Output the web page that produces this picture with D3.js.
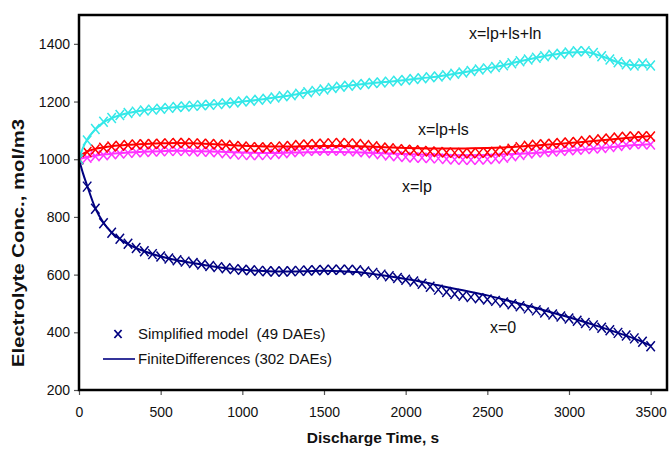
<!DOCTYPE html>
<html>
<head>
<meta charset="utf-8">
<script src="https://cdn.jsdelivr.net/npm/d3@7"></script>
<style>
  html, body { margin: 0; padding: 0; background: #fff; }
  svg { display: block; font-family: "Liberation Sans", Arial, sans-serif; }
</style>
</head>
<body>
<svg id="chart" width="669" height="449"></svg>
<script>
// ---------- DATA ----------
const xTicks = [0, 500, 1000, 1500, 2000, 2500, 3000, 3500];
const yTicks = [200, 400, 600, 800, 1000, 1200, 1400];

// Simplified model (markers) sample times, s
const markerTimes = [0,50,100,150,200,250,300,350,400,450,500,550,600,650,700,750,800,850,900,950,
  1000,1050,1100,1150,1200,1250,1300,1350,1400,1450,1500,1550,1600,1650,1700,1750,1800,1850,1900,1950,
  2000,2050,2100,2150,2200,2250,2300,2350,2400,2450,2500,2550,2600,2650,2700,2750,2800,2850,2900,2950,
  3000,3050,3100,3150,3200,3250,3300,3350,3400,3450,3500];

const simX0 = [1000,905,828,778,745,724,707,692,681,671,663,656,650,645,640,635,630,626,622,619,
  617,615,613,612,611,611,612,613,614,615,616,617,617,617,615,611,606,600,594,588,
  582,576,568,558,548,540,533,527,522,518,514,509,503,497,490,483,476,469,462,455,
  448,440,432,424,416,407,398,389,379,367,352];
const simLp = [1000,1005,1010,1014,1017,1020,1022,1024,1025,1027,1028,1029,1029,1029,1028,1027,1026,1024,1021,1018,
  1016,1015,1015,1016,1018,1021,1024,1027,1029,1030,1030,1030,1030,1029,1027,1024,1021,1017,1013,1010,
  1008,1006,1005,1004,1003,1001,999,998,998,999,1000,1002,1005,1010,1015,1020,1023,1025,1027,1029,
  1031,1033,1035,1037,1039,1042,1046,1050,1053,1053,1051];
const simLpLs = [1000,1025,1034,1040,1044,1047,1049,1051,1052,1053,1054,1055,1056,1056,1055,1054,1053,1051,1049,1046,
  1044,1042,1041,1041,1042,1044,1046,1049,1051,1053,1054,1055,1056,1055,1053,1049,1045,1041,1038,1035,
  1033,1031,1029,1027,1025,1023,1022,1021,1021,1022,1023,1026,1030,1036,1042,1047,1050,1052,1054,1056,
  1058,1060,1063,1066,1069,1072,1075,1078,1079,1080,1079];
const simLpLsLn = [1000,1065,1105,1130,1143,1153,1160,1165,1169,1172,1175,1178,1181,1183,1185,1187,1189,1191,1194,1197,
  1200,1203,1206,1210,1214,1218,1222,1227,1232,1237,1242,1247,1251,1255,1258,1261,1264,1266,1269,1272,
  1275,1278,1281,1284,1287,1291,1296,1301,1306,1311,1315,1320,1326,1333,1340,1346,1352,1357,1362,1366,
  1370,1374,1374,1368,1357,1346,1336,1329,1325,1332,1325];

// Finite differences (lines)
const fdTimes = [0,25,50,100,150,200,300,400,500,600,700,800,900,1000,1100,1200,1300,1400,1500,1600,
  1700,1800,1900,2000,2100,2200,2300,2400,2500,2600,2700,2800,2900,3000,3100,3200,3300,3400,3500];
const fdX0 = [1000,950,908,830,780,746,706,681,663,650,640,630,622,617,613,611,611,612,613,612,
  609,602,594,585,575,563,551,540,528,514,499,484,468,452,435,417,398,378,354];
const fdLp = [1000,1004,1007,1012,1016,1019,1023,1026,1028,1029,1028,1027,1025,1023,1022,1022,1023,1024,1025,1025,
  1024,1022,1020,1018,1016,1015,1014,1014,1015,1017,1019,1022,1026,1030,1034,1039,1044,1049,1052];
const fdLpLs = [1000,1018,1027,1036,1041,1045,1050,1053,1055,1056,1055,1053,1050,1047,1045,1044,1044,1045,1046,1046,
  1045,1043,1041,1039,1038,1037,1037,1038,1039,1041,1044,1048,1052,1056,1061,1066,1071,1076,1080];
const fdLpLsLn = [1000,1040,1068,1103,1128,1142,1160,1170,1176,1181,1185,1189,1194,1200,1206,1214,1222,1232,1242,1251,
  1258,1264,1269,1275,1281,1287,1296,1306,1315,1326,1340,1352,1362,1370,1372,1357,1336,1326,1326];

const seriesNames = ["x=0", "x=lp", "x=lp+ls", "x=lp+ls+ln"];
const seriesColors = ["#000080", "#ff33ff", "#ff0000", "#33e8e8"];
const legendLabels = ["Simplified model  (49 DAEs)", "FiniteDifferences (302 DAEs)"];

// ---------- LAYOUT ----------
const svg = d3.select("#chart");
const m = { left: 79, right: 667, top: 15, bottom: 390 };
const x = d3.scaleLinear().domain([0, 3600]).range([m.left, m.right]);
const y = d3.scaleLinear().domain([200, 1500]).range([m.bottom, m.top]);

const simSeries = [simX0, simLp, simLpLs, simLpLsLn];
const fdSeries = [fdX0, fdLp, fdLpLs, fdLpLsLn];

const plot = svg.append("g");
plot.append("clipPath").attr("id", "clip").append("rect")
  .attr("x", m.left).attr("y", m.top).attr("width", m.right - m.left).attr("height", m.bottom - m.top);

const lineGen = d3.line().x(d => x(d[0])).y(d => y(d[1])).curve(d3.curveMonotoneX);
const xPath = "M-4.2,-5L4.2,5M-4.2,5L4.2,-5";

const drawOrder = [0, 1, 2, 3];
drawOrder.forEach(i => {
  const g = plot.append("g").attr("clip-path", "url(#clip)");
  g.append("path")
    .datum(fdTimes.map((t, k) => [t, fdSeries[i][k]]))
    .attr("d", lineGen)
    .attr("fill", "none")
    .attr("stroke", seriesColors[i])
    .attr("stroke-width", 2);
  g.selectAll("path.mk")
    .data(markerTimes.map((t, k) => [t, simSeries[i][k]]))
    .join("path")
    .attr("class", "mk")
    .attr("d", xPath)
    .attr("transform", d => `translate(${x(d[0])},${y(d[1])})`)
    .attr("fill", "none")
    .attr("stroke", seriesColors[i])
    .attr("stroke-width", 1.5);
});

// ---------- AXES ----------
const xAxis = svg.append("g").attr("transform", `translate(0,${m.bottom})`)
  .call(d3.axisBottom(x).tickValues(xTicks).tickSize(5).tickPadding(6).tickFormat(d3.format("d")));
const yAxis = svg.append("g").attr("transform", `translate(${m.left},0)`)
  .call(d3.axisLeft(y).tickValues(yTicks).tickSize(5).tickPadding(4).tickFormat(d3.format("d")));
[xAxis, yAxis].forEach(a => {
  a.select(".domain").remove();
  a.selectAll(".tick line").attr("stroke", "#555").attr("stroke-width", 1.2);
  a.selectAll(".tick text").attr("font-size", 14).attr("fill", "#111")
    .attr("font-family", "'Liberation Sans', Arial, sans-serif");
});
xAxis.selectAll(".tick text").attr("dy", "1.15em");

// frame
svg.append("rect")
  .attr("x", m.left).attr("y", m.top)
  .attr("width", m.right - m.left).attr("height", m.bottom - m.top)
  .attr("fill", "none").attr("stroke", "#000").attr("stroke-width", 2.5);

// axis titles
svg.append("text")
  .attr("x", 373).attr("y", 443)
  .attr("text-anchor", "middle")
  .attr("font-size", 15.5).attr("font-weight", "bold").attr("fill", "#111")
  .text("Discharge Time, s");
svg.append("text")
  .attr("transform", "translate(24,243) rotate(-90)")
  .attr("text-anchor", "middle")
  .attr("font-size", 16).attr("font-weight", "bold").attr("fill", "#111")
  .attr("textLength", 248).attr("lengthAdjust", "spacingAndGlyphs")
  .text("Electrolyte Conc., mol/m3");

// curve labels
const labelPos = [[490, 333], [402, 192], [418, 135], [469, 39]];
seriesNames.forEach((n, i) => {
  svg.append("text")
    .attr("x", labelPos[i][0]).attr("y", labelPos[i][1])
    .attr("font-size", 16).attr("fill", "#111")
    .text(n);
});

// legend
const leg = svg.append("g");
leg.append("path").attr("d", "M-3.6,-4L3.6,4M-3.6,4L3.6,-4")
  .attr("transform", "translate(118,334)")
  .attr("fill", "none").attr("stroke", "#000080").attr("stroke-width", 1.8);
leg.append("line").attr("x1", 103).attr("x2", 135).attr("y1", 359).attr("y2", 359)
  .attr("stroke", "#000080").attr("stroke-width", 1.6);
legendLabels.forEach((t, i) => {
  leg.append("text").attr("x", 138).attr("y", 339 + i * 25)
    .attr("font-size", 15).attr("fill", "#111")
    .attr("xml:space", "preserve")
    .style("white-space", "pre")
    .text(t);
});
</script>
</body>
</html>
